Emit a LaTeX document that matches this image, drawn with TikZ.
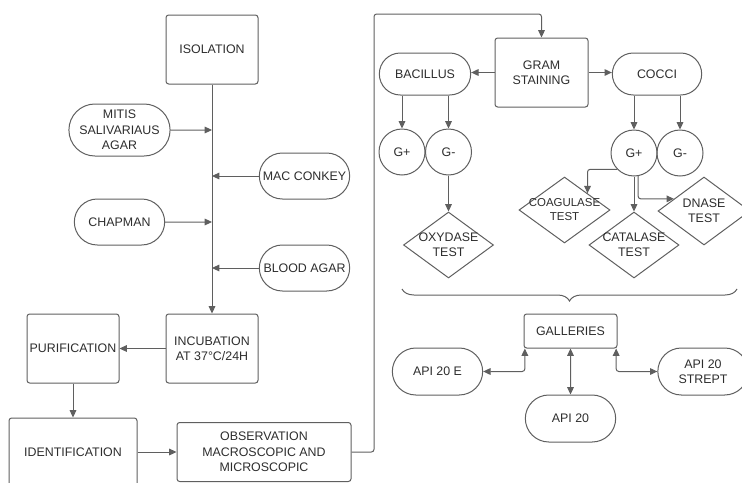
\documentclass[tikz,border=0pt]{standalone}
\usepackage{fontspec}
\setmainfont{Liberation Sans}
\usetikzlibrary{arrows.meta,positioning,shapes.geometric,shapes.misc,decorations.pathreplacing}

\definecolor{linegray}{RGB}{95,95,95}
\definecolor{textgray}{RGB}{45,45,45}

\tikzset{
  every node/.style={font=\fontsize{9.3}{11.5}\selectfont, text=textgray, align=center, inner sep=1pt},
  box/.style={draw=linegray, line width=0.75pt, rounded corners=2pt},
  pill/.style={draw=linegray, line width=0.75pt, rounded rectangle},
  sign/.style={draw=linegray, line width=0.75pt, circle, minimum size=34.5pt},
  test/.style={draw=linegray, line width=0.75pt, diamond, aspect=1.36, inner sep=-2.5pt},
  link/.style={draw=linegray, line width=0.75pt, ->},
  >={Triangle[length=5.5pt,width=5pt]}
}

\begin{document}
\begin{tikzpicture}[x=0.75pt,y=-0.75pt]
\useasboundingbox (0,0) rectangle (742,482);
\clip (0,0) rectangle (742,482);

% left column
\node [box, minimum width=69pt, minimum height=51.75pt] (isol) at (212,49.5) {ISOLATION};
\node [pill, minimum width=69.75pt, minimum height=39pt] (mitis) at (119.5,130) {MITIS\\SALIVARIAUS\\AGAR};
\node [pill, minimum width=69.75pt, minimum height=34.5pt] (mac) at (304.5,176) {MAC CONKEY};
\node [pill, minimum width=69.75pt, minimum height=34.5pt] (chap) at (119.5,222) {CHAPMAN};
\node [pill, minimum width=69.75pt, minimum height=34.5pt] (blood) at (304.5,268) {BLOOD AGAR};
\node [box, minimum width=69pt, minimum height=51.75pt] (incub) at (212,348.5) {INCUBATION\\AT 37°C/24H};
\node [box, minimum width=69pt, minimum height=51.75pt] (purif) at (73,348.5) {PURIFICATION};
\node [box, minimum width=96pt, minimum height=51pt] (ident) at (73,452) {IDENTIFICATION};
\node [box, minimum width=130.5pt, minimum height=44.25pt] (obs) at (264,452) {OBSERVATION\\MACROSCOPIC AND\\MICROSCOPIC};
\coordinate (turn) at (374,14);

% gram staining
\node [box, minimum width=69.75pt, minimum height=51.75pt] (gram) at (541.5,72.5) {GRAM\\STAINING};
\node [pill, minimum width=70.5pt, minimum height=31.5pt] (bac) at (425,74) {BACILLUS};
\node [pill, minimum width=69pt, minimum height=31.5pt] (cocci) at (657,74) {COCCI};
\node [sign] (bplus) at (402,152) {G+};
\node [sign] (bminus) at (448.5,152) {G-};
\node [sign] (cplus) at (634,153) {G+};
\node [sign] (cminus) at (680,153) {G-};
\node [test, minimum width=67.5pt, minimum height=49.5pt] (oxy) at (448.5,245) {OXYDASE\\TEST};
\node [test, minimum width=68.25pt, minimum height=49.5pt, font=\fontsize{8.6}{10.5}\selectfont] (coag) at (564.5,210) {COAGULASE\\TEST};
\node [test, minimum width=67.5pt, minimum height=49.5pt] (cata) at (634,245) {CATALASE\\TEST};
\node [test, minimum width=69pt, minimum height=51pt] (dnase) at (704,211) {DNASE\\TEST};

% galleries
\coordinate (bl) at (402,289);
\coordinate (br) at (737,289);
\node [box, minimum width=69.75pt, minimum height=25.5pt] (gal) at (570.5,331) {GALLERIES};
\node [pill, minimum width=69.75pt, minimum height=35.25pt] (apie) at (437.5,371.5) {API 20 E};
\node [pill, minimum width=69.75pt, minimum height=35.25pt] (api) at (570.5,418.5) {API 20};
\node [pill, minimum width=69.75pt, minimum height=35.25pt] (strep) at (703,371.5) {API 20\\STREPT};

\draw [link] (isol) -- (incub);
\draw [link] (mitis) -- (mitis -| isol);
\draw [link] (mac) -- (mac -| isol);
\draw [link] (chap) -- (chap -| isol);
\draw [link] (blood) -- (blood -| isol);
\draw [link] (incub) -- (purif);
\draw [link] (purif) -- (ident);
\draw [link] (ident) -- (obs);
\draw [link, rounded corners=2pt] (obs.east) -| (turn) -| (gram.north);

\draw [link] (gram.west) -- (gram.west -| bac.east);
\draw [link] (gram.east) -- (gram.east -| cocci.west);
\draw [link] (bac.south -| bplus) -- (bplus);
\draw [link] (bac.south -| bminus) -- (bminus);
\draw [link] (cocci.south -| cplus) -- (cplus);
\draw [link] (cocci.south -| cminus) -- (cminus);
\draw [link] (bminus) -- (oxy);
\draw [link] (cplus) -- (cata);
\draw [link, rounded corners=2pt] (cplus.224) -| (coag.36);
\draw [link, rounded corners=2pt] (cplus.-80) |- (dnase.158);

\draw [linegray, line width=0.75pt, decorate, decoration={brace, mirror, amplitude=9pt}] (bl) -- (br);
\draw [link, <->, rounded corners=2pt] (apie) -| ([xshift=1pt]gal.south west);
\draw [link, <->] (gal) -- (api);
\draw [link, <->, rounded corners=2pt] ([xshift=-1pt]gal.south east) |- (strep);
\end{tikzpicture}
\end{document}
